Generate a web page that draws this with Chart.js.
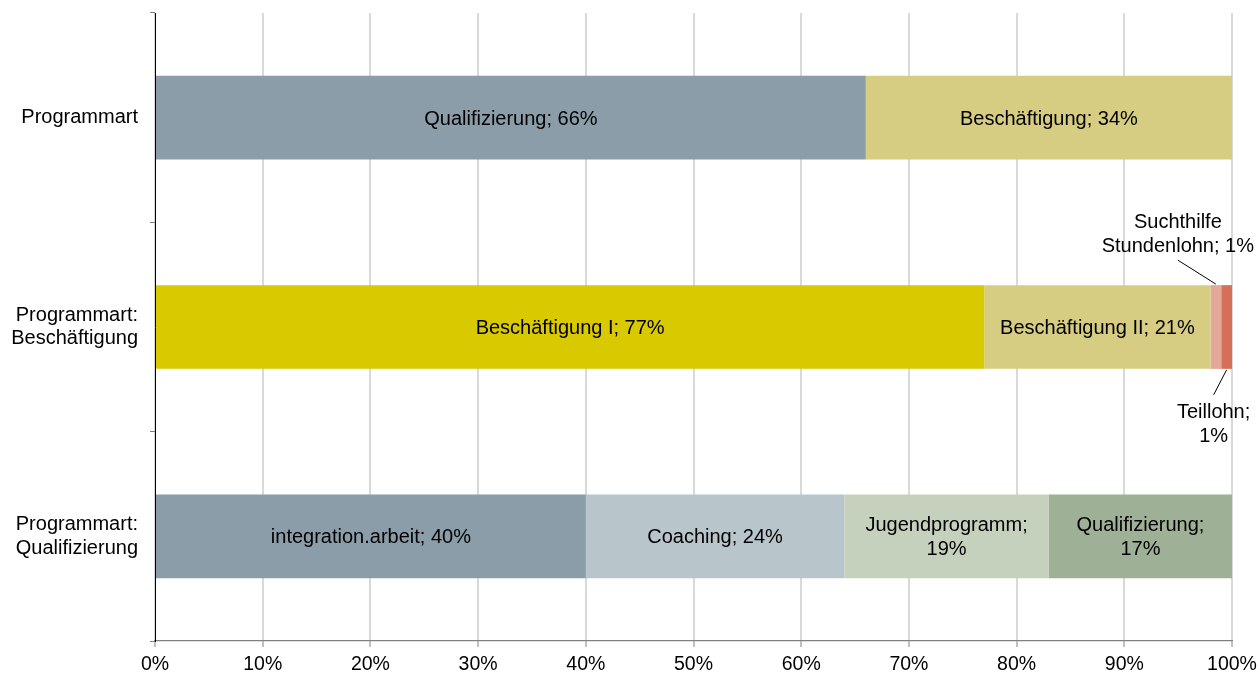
<!DOCTYPE html>
<html><head><meta charset="utf-8">
<script src="https://cdn.jsdelivr.net/npm/chart.js@4.4.1/dist/chart.umd.min.js"></script>
<style>html,body{margin:0;padding:0;background:#fff;}#wrap{width:1260px;height:675px;position:relative;}</style>
</head><body><div id="wrap"><canvas id="c"></canvas></div>
<script>
// ---- data ----
const categories = [['Programmart'], ['Programmart:', 'Beschäftigung'], ['Programmart:', 'Qualifizierung']];
const segmentsProgrammart = ['Qualifizierung', 'Beschäftigung'];
const valuesProgrammart = [66, 34];
const segmentsBeschaeftigung = ['Beschäftigung I', 'Beschäftigung II', 'Suchthilfe Stundenlohn', 'Teillohn'];
const valuesBeschaeftigung = [77, 21, 1, 1];
const segmentsQualifizierung = ['integration.arbeit', 'Coaching', 'Jugendprogramm', 'Qualifizierung'];
const valuesQualifizierung = [40, 24, 19, 17];
const xTickValues = [0, 10, 20, 30, 40, 50, 60, 70, 80, 90, 100];

// ---- styles ----
const colorsProgrammart = ['#8a9da8', '#d6cc82'];
const colorsBeschaeftigung = ['#d9c900', '#d6cc82', '#e3a898', '#d4705a'];
const colorsQualifizierung = ['#8a9da8', '#b8c5cb', '#c5d1bd', '#9eb196'];
const FONT = '"Liberation Sans", Arial, sans-serif';
const FS = 20;
const FS_TICK = 19.5;

const rows = [
  {names: segmentsProgrammart, values: valuesProgrammart, colors: colorsProgrammart},
  {names: segmentsBeschaeftigung, values: valuesBeschaeftigung, colors: colorsBeschaeftigung},
  {names: segmentsQualifizierung, values: valuesQualifizierung, colors: colorsQualifizierung}
];
const nSeg = Math.max(...rows.map(r => r.values.length));
const datasets = [];
for (let i = 0; i < nSeg; i++) {
  datasets.push({
    data: rows.map(r => r.values[i] ?? null),
    backgroundColor: rows.map(r => r.colors[i] ?? 'transparent'),
    segNames: rows.map(r => r.names[i] ?? null),
    borderWidth: 0,
    barPercentage: 0.4,
    categoryPercentage: 1.0
  });
}

function wrapWords(ctx, text, maxW) {
  const words = text.split(' ');
  const lines = [];
  let cur = '';
  words.forEach(w => {
    const t = cur ? cur + ' ' + w : w;
    if (cur && ctx.measureText(t).width > maxW) { lines.push(cur); cur = w; }
    else cur = t;
  });
  if (cur) lines.push(cur);
  return lines;
}

const labelPlugin = {
  id: 'segLabels',
  afterDatasetsDraw(chart) {
    const ctx = chart.ctx;
    ctx.save();
    ctx.font = FS + 'px ' + FONT;
    ctx.fillStyle = '#000';
    ctx.textAlign = 'center';
    ctx.textBaseline = 'middle';
    const lh = 24;
    const dy = 1.5;
    const smallCount = {};
    chart.data.datasets.forEach((ds, di) => {
      const meta = chart.getDatasetMeta(di);
      meta.data.forEach((el, ri) => {
        const v = ds.data[ri];
        if (v == null) return;
        const name = ds.segNames[ri];
        const text = name + '; ' + v + '%';
        const p = el.getProps(['x', 'base', 'y', 'height'], true);
        const w = p.x - p.base;
        const cx = (p.x + p.base) / 2;
        if (w < 40) {
          const k = smallCount[ri] = (smallCount[ri] || 0) + 1;
          ctx.strokeStyle = '#000';
          ctx.lineWidth = 1;
          if (k % 2 === 1) {
            const top = p.y - p.height / 2;
            const lines = wrapWords(ctx, text, 160);
            const lx = cx - 38;
            ctx.beginPath(); ctx.moveTo(cx, top - 1); ctx.lineTo(lx, top - 25); ctx.stroke();
            lines.forEach((l, j) => ctx.fillText(l, lx, top - 40 + dy - (lines.length - 1 - j) * lh));
          } else {
            const bot = p.y + p.height / 2;
            const lines = wrapWords(ctx, text, 82);
            const lx = cx - 13;
            ctx.beginPath(); ctx.moveTo(cx, bot + 1); ctx.lineTo(lx, bot + 26); ctx.stroke();
            lines.forEach((l, j) => ctx.fillText(l, lx, bot + 42 + dy + j * lh));
          }
        } else {
          let lines = [text];
          if (ctx.measureText(text).width > w - 24) lines = [name + ';', v + '%'];
          lines.forEach((l, j) => ctx.fillText(l, cx, p.y + dy + (j - (lines.length - 1) / 2) * lh));
        }
      });
    });
    ctx.restore();
  }
};

new Chart(document.getElementById('c'), {
  type: 'bar',
  data: {labels: categories, datasets: datasets},
  plugins: [labelPlugin],
  options: {
    indexAxis: 'y',
    responsive: true,
    maintainAspectRatio: false,
    animation: false,
    layout: {padding: {top: 13, right: 28, left: 0, bottom: 0}},
    plugins: {legend: {display: false}, tooltip: {enabled: false}},
    scales: {
      x: {
        type: 'linear', stacked: true, min: 0, max: 100,
        afterBuildTicks: s => { s.ticks = xTickValues.map(v => ({value: v})); },
        afterFit: s => { s.height = 34; s.paddingLeft = 0; s.paddingRight = 0; },
        ticks: {callback: v => v + '%', color: '#000', font: {family: FONT, size: FS_TICK}, padding: 6, maxRotation: 0},
        grid: {color: '#d9d9d9', lineWidth: 2, tickLength: 6, tickColor: '#808080', tickWidth: 1},
        border: {color: '#808080', width: 1.3}
      },
      y: {
        type: 'category', stacked: true, offset: true,
        afterFit: s => { s.width = 155; s.paddingTop = 0; s.paddingBottom = 0; },
        ticks: {color: '#000', font: {family: FONT, size: FS, lineHeight: 1.17}, padding: 12},
        grid: {offset: true, drawOnChartArea: false, tickLength: 5, color: '#808080'},
        border: {color: '#000', width: 1}
      }
    }
  }
});
</script></body></html>
